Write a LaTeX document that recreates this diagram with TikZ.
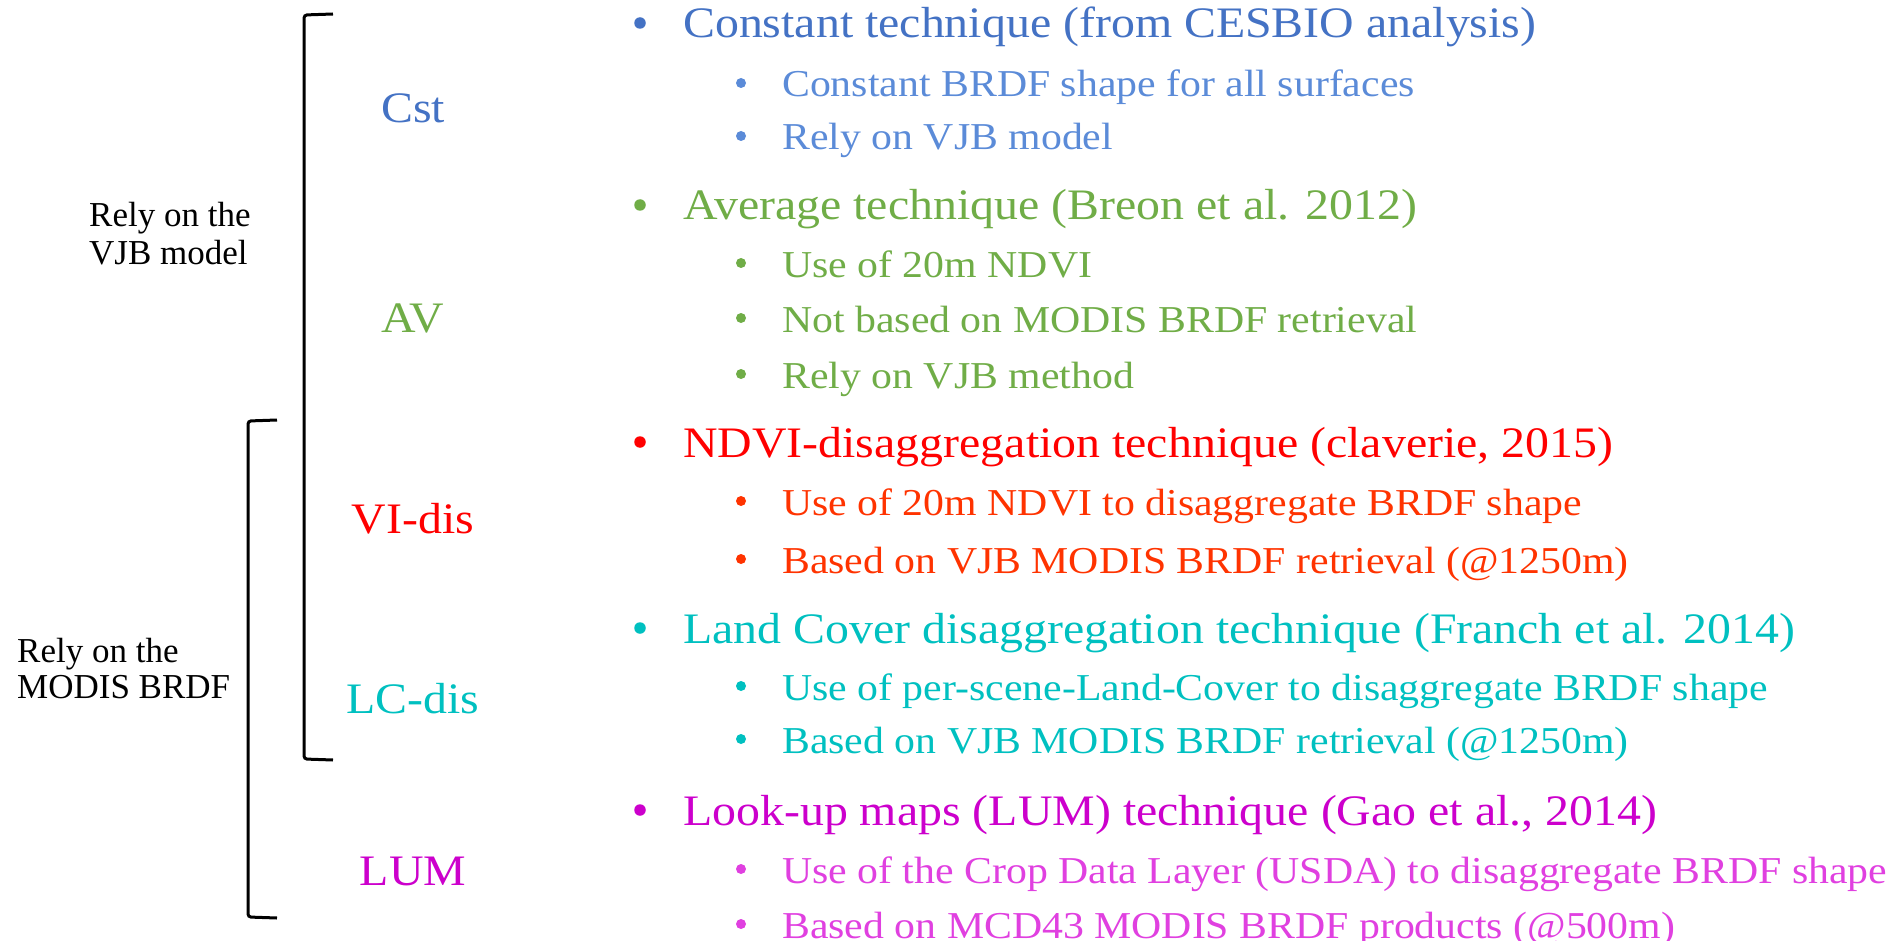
\documentclass[tikz,border=0pt]{standalone}
\usepackage{fontspec}
\setmainfont{Liberation Serif}[FakeStretch=1.1]
\newfontfamily\lblfont{Liberation Serif}
\definecolor{cblue}{HTML}{4472C4}
\definecolor{cbluesub}{HTML}{5B8BD8}
\definecolor{cgreen}{HTML}{70AD47}
\definecolor{cred}{HTML}{FF0000}
\definecolor{credsub}{HTML}{FF3300}
\definecolor{ccyan}{HTML}{00C0C0}
\definecolor{cmag}{HTML}{CC00CC}
\definecolor{cmagsub}{HTML}{E040E0}
\begin{document}
\begin{tikzpicture}[x=1pt,y=-1pt,
  mainitem/.style={anchor=base west, inner sep=0, font=\fontsize{43.5}{50}\selectfont},
  subitem/.style={anchor=base west, inner sep=0, font=\fontsize{38}{44}\selectfont},
  tag/.style={anchor=base, inner sep=0, font=\fontsize{43.5}{50}\selectfont},
  side/.style={anchor=base west, inner sep=0, font=\lblfont\fontsize{35}{38}\selectfont},
  bracketline/.style={line width=3pt, rounded corners=3pt},
  mdot/.style={circle, fill, inner sep=0, minimum size=11.5pt},
  sdot/.style={circle, fill, inner sep=0, minimum size=10pt}]
\useasboundingbox (0,0) rectangle (1892,941);

% brackets
\draw[bracketline] (333,14) -- (304,15) -- (304,759) -- (333,760);
\draw[bracketline] (277,420) -- (248,421) -- (248,917) -- (277,918);

% side labels
\node[side] (s1a) at (89,227) {Rely on the};
\node[side] (s1b) at (89,265) {VJB model};
\node[side] (s2a) at (17,662) {Rely on the};
\node[side] (s2b) at (17,698) {MODIS BRDF};

% tags
\node[tag, text=cblue] (tcst) at (413,123) {Cst};
\node[tag, text=cgreen] (tav) at (413,332) {AV};
\node[tag, text=cred] (tvi) at (413,533) {VI-dis};
\node[tag, text=ccyan] (tlc) at (413,713) {LC-dis};
\node[tag, text=cmag] (tlum) at (413,885) {LUM};

% Constant
\node[mdot, cblue] (b1) at (640,23) {};
\node[mainitem, text=cblue] (m1) at (683,38) {Constant technique (from CESBIO analysis)};
\node[sdot, cbluesub] (b11) at (741,83) {};
\node[subitem, text=cbluesub] (m11) at (782,97) {Constant BRDF shape for all surfaces};
\node[sdot, cbluesub] (b12) at (741,136) {};
\node[subitem, text=cbluesub] (m12) at (782,150) {Rely on VJB model};

% Average
\node[mdot, cgreen] (b2) at (640,205) {};
\node[mainitem, text=cgreen] (m2) at (683,220) {Average technique (Breon et al. 2012)};
\node[sdot, cgreen] (b21) at (741,263) {};
\node[subitem, text=cgreen] (m21) at (782,277) {Use of 20m NDVI};
\node[sdot, cgreen] (b22) at (741,318) {};
\node[subitem, text=cgreen] (m22) at (782,332) {Not based on MODIS BRDF retrieval};
\node[sdot, cgreen] (b23) at (741,374) {};
\node[subitem, text=cgreen] (m23) at (782,388) {Rely on VJB method};

% NDVI
\node[mdot, cred] (b3) at (640,442) {};
\node[mainitem, text=cred] (m3) at (683,457) {NDVI-disaggregation technique (claverie, 2015)};
\node[sdot, credsub] (b31) at (741,501) {};
\node[subitem, text=credsub] (m31) at (782,515) {Use of 20m NDVI to disaggregate BRDF shape};
\node[sdot, credsub] (b32) at (741,559) {};
\node[subitem, text=credsub] (m32) at (782,573) {Based on VJB MODIS BRDF retrieval (@1250m)};

% Land cover
\node[mdot, ccyan] (b4) at (640,628) {};
\node[mainitem, text=ccyan] (m4) at (683,643) {Land Cover disaggregation technique (Franch et al. 2014)};
\node[sdot, ccyan] (b41) at (741,686) {};
\node[subitem, text=ccyan] (m41) at (782,700) {Use of per-scene-Land-Cover to disaggregate BRDF shape};
\node[sdot, ccyan] (b42) at (741,739) {};
\node[subitem, text=ccyan] (m42) at (782,753) {Based on VJB MODIS BRDF retrieval (@1250m)};

% LUM
\node[mdot, cmag] (b5) at (640,810) {};
\node[mainitem, text=cmag] (m5) at (683,825) {Look-up maps (LUM) technique (Gao et al., 2014)};
\node[sdot, cmagsub] (b51) at (741,869) {};
\node[subitem, text=cmagsub] (m51) at (782,883) {Use of the Crop Data Layer (USDA) to disaggregate BRDF shape};
\node[sdot, cmagsub] (b52) at (741,924) {};
\node[subitem, text=cmagsub] (m52) at (782,938) {Based on MCD43 MODIS BRDF products (@500m)};
\end{tikzpicture}
\end{document}
